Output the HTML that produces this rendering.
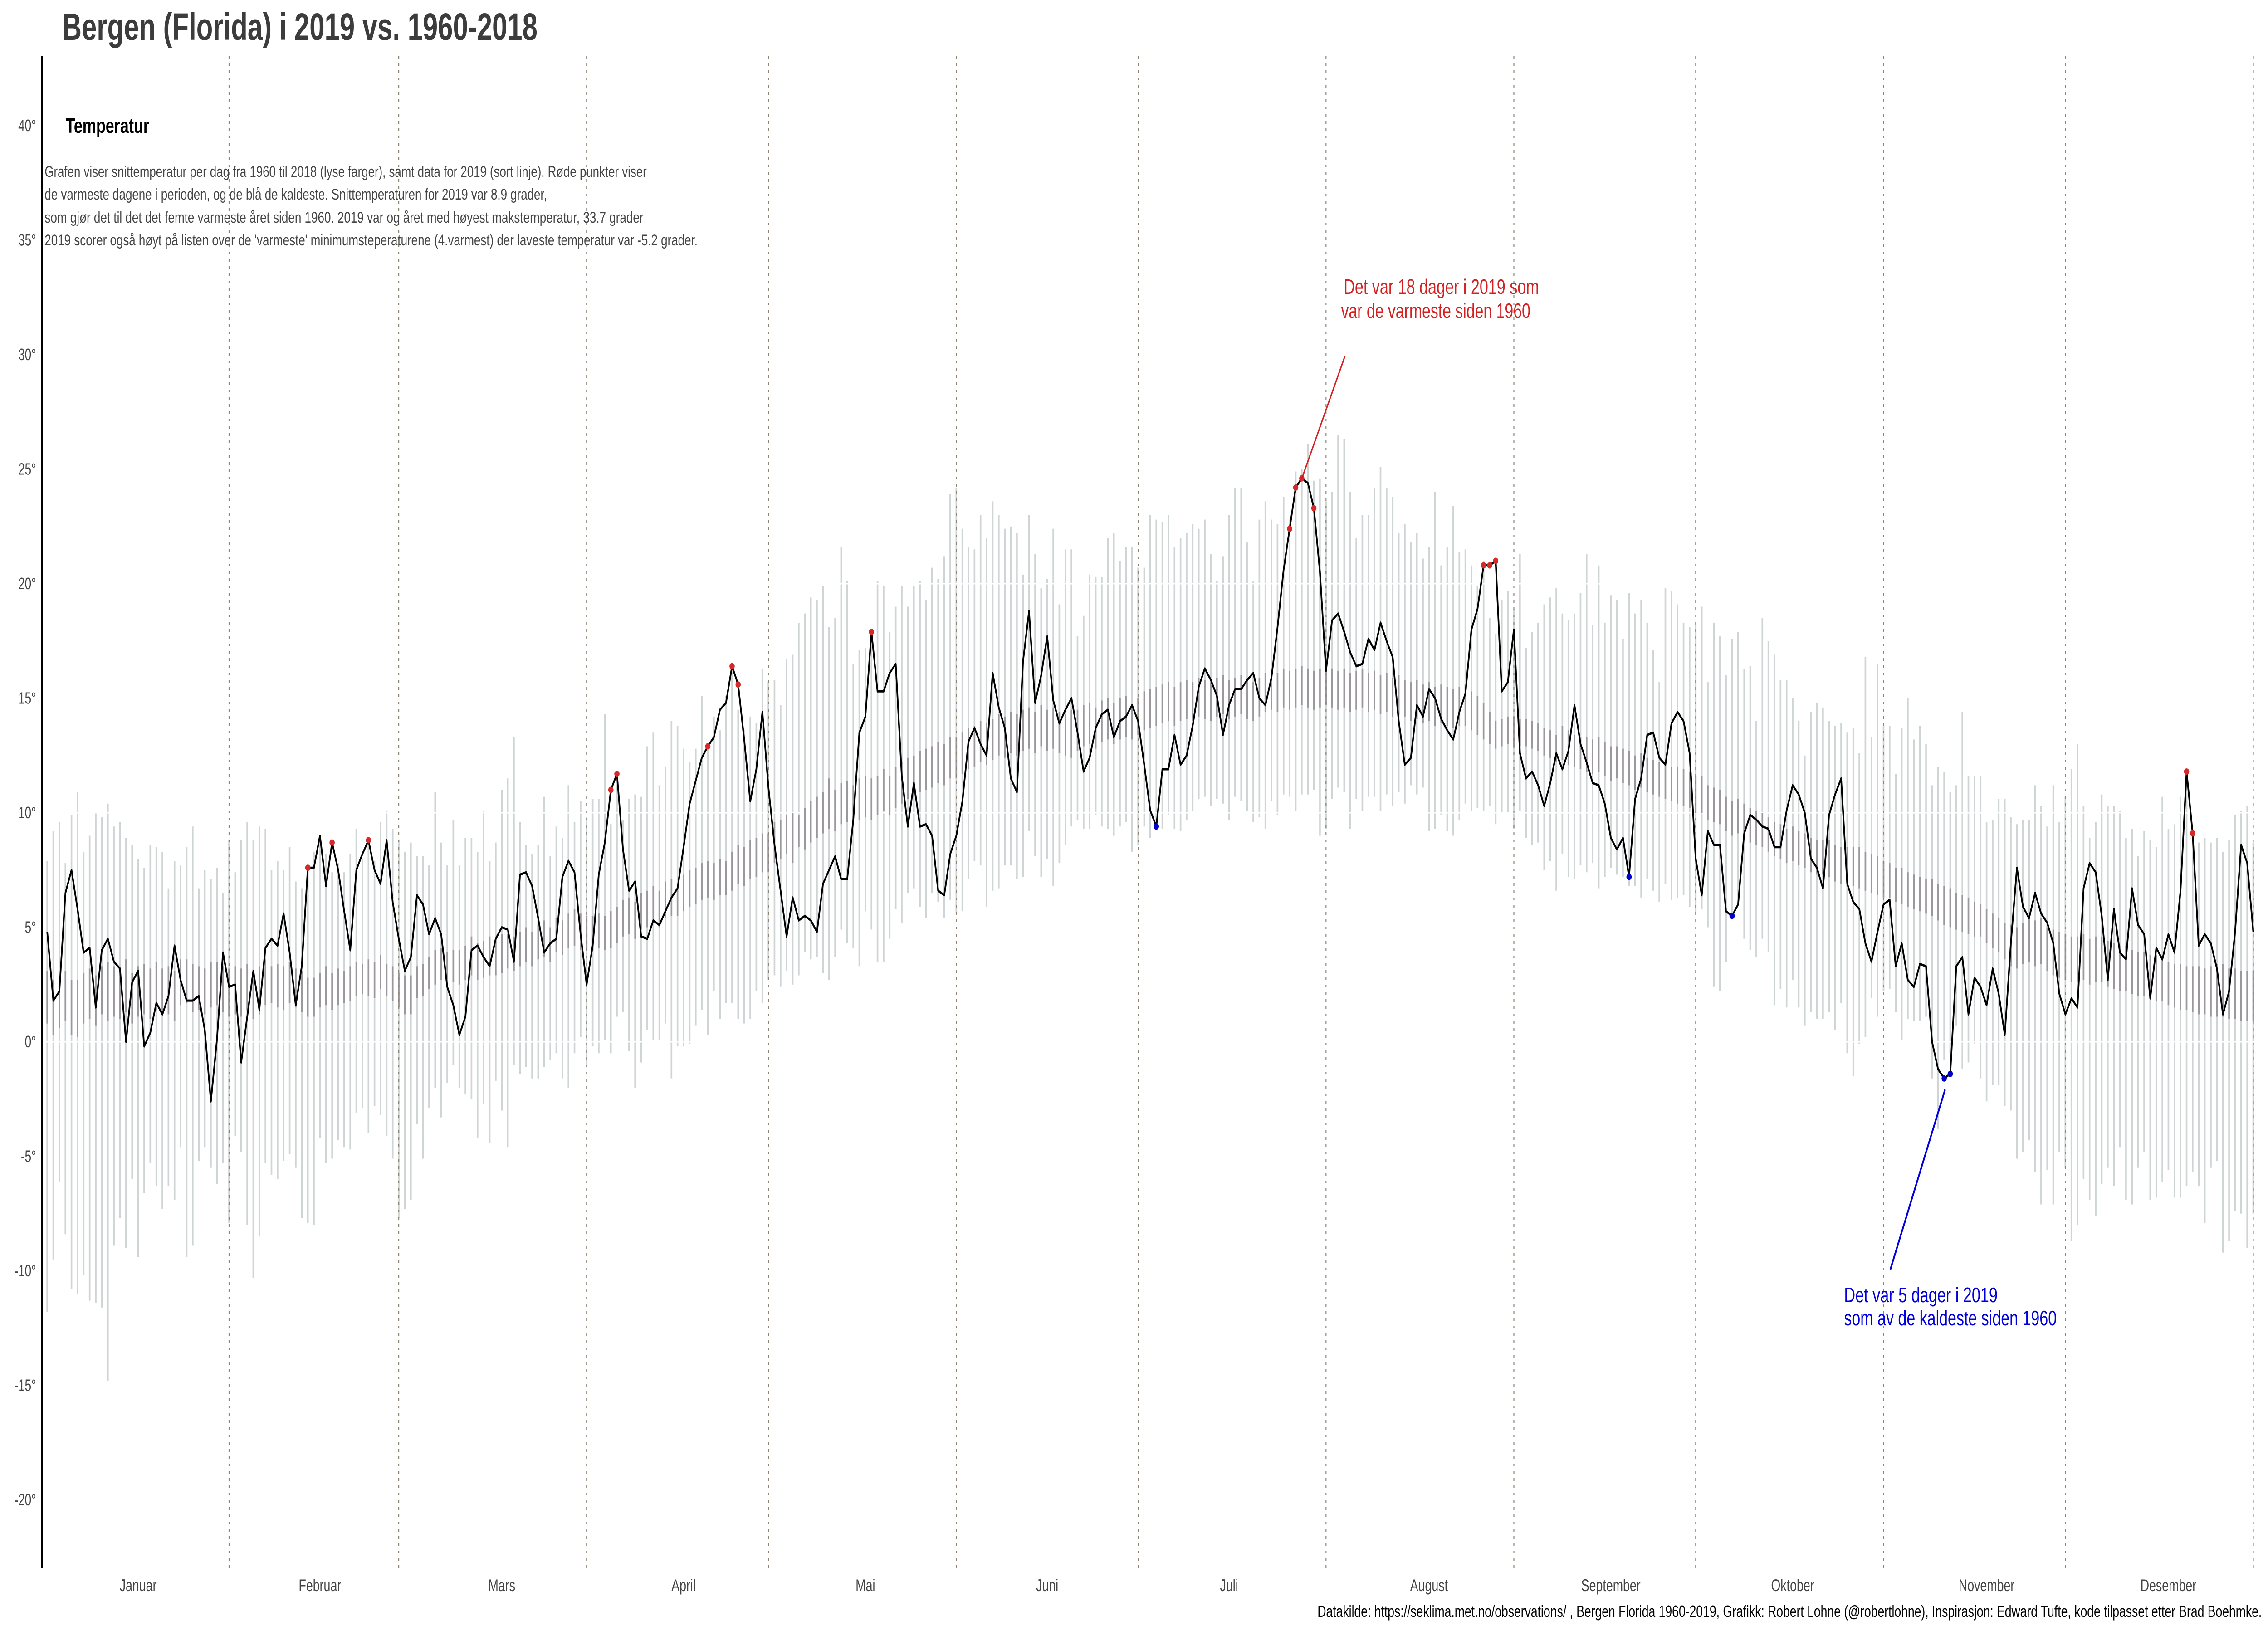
<!DOCTYPE html>
<html><head><meta charset="utf-8"><style>
html,body{margin:0;padding:0;background:#fff;overflow:hidden;width:100vw;height:100vh}
svg{display:block;width:100vw;height:100vh}
text{font-family:"Liberation Sans",Arial,sans-serif}
</style></head><body>
<svg id="chart" xmlns="http://www.w3.org/2000/svg" viewBox="0 0 6912 3596" preserveAspectRatio="none">
<rect width="6912" height="3596" fill="#fff"/>
<text x="189" y="88" font-size="84" font-weight="bold" fill="#3c3c3c" textLength="1449" lengthAdjust="spacingAndGlyphs">Bergen (Florida) i 2019 vs. 1960-2018</text>
<g id="gBars"></g>
<g id="gGrid"></g>
<g id="gBand"></g>
<g id="gMonths"></g>
<line x1="128" y1="123" x2="128" y2="3458" stroke="#000" stroke-width="5"/>
<g id="gYTicks"></g>
<g id="gXLabels"></g>
<path id="line2019" fill="none" stroke="#000" stroke-width="5" stroke-linejoin="round"/>
<g id="gDots"></g>
<text x="200" y="293" font-size="46" font-weight="bold" fill="#000" textLength="255" lengthAdjust="spacingAndGlyphs">Temperatur</text>
<g font-size="34" fill="#444">
<text x="136" y="390" textLength="1835" lengthAdjust="spacingAndGlyphs">Grafen viser snittemperatur per dag fra 1960 til 2018 (lyse farger), samt data for 2019 (sort linje). Røde punkter viser</text>
<text x="136" y="440" textLength="1531" lengthAdjust="spacingAndGlyphs">de varmeste dagene i perioden, og de blå de kaldeste. Snittemperaturen for 2019 var 8.9 grader,</text>
<text x="136" y="491" textLength="1825" lengthAdjust="spacingAndGlyphs">som gjør det til det det femte varmeste året siden 1960. 2019 var og året med høyest makstemperatur, 33.7 grader</text>
<text x="136" y="541" textLength="1990" lengthAdjust="spacingAndGlyphs">2019 scorer også høyt på listen over de 'varmeste' minimumsteperaturene (4.varmest) der laveste temperatur var -5.2 grader.</text>
</g>
<line x1="4099" y1="785" x2="3967" y2="1056" stroke="#d42020" stroke-width="4"/>
<g font-size="46" fill="#d42020">
<text x="4095" y="648" textLength="595" lengthAdjust="spacingAndGlyphs">Det var 18 dager i 2019 som</text>
<text x="4087" y="701" textLength="577" lengthAdjust="spacingAndGlyphs">var de varmeste siden 1960</text>
</g>
<line x1="5761" y1="2799" x2="5928" y2="2402" stroke="#0000dd" stroke-width="5"/>
<g font-size="46" fill="#0000dd">
<text x="5620" y="2871" textLength="468" lengthAdjust="spacingAndGlyphs">Det var 5 dager i 2019</text>
<text x="5620" y="2922" textLength="648" lengthAdjust="spacingAndGlyphs">som av de kaldeste siden 1960</text>
</g>
<text x="4015" y="3565" font-size="36" fill="#000" textLength="2878" lengthAdjust="spacingAndGlyphs">Datakilde: https://seklima.met.no/observations/ , Bergen Florida 1960-2019, Grafikk: Robert Lohne (@robertlohne), Inspirasjon: Edward Tufte, kode tilpasset etter Brad Boehmke.</text>
</svg>
<script>
const temps2019 = [4.8,1.8,2.2,6.5,7.5,5.8,3.9,4.1,1.5,4.0,
4.5,3.5,3.2,0.0,2.6,3.1,-0.2,0.4,1.7,1.2,
2.0,4.2,2.7,1.8,1.8,2.0,0.5,-2.6,0.1,3.9,2.4,
2.5,-0.9,1.1,3.1,1.4,4.1,4.5,4.2,5.6,3.9,
1.6,3.3,7.6,7.6,9.0,6.8,8.7,7.5,5.7,4.0,
7.5,8.2,8.8,7.5,6.9,8.8,6.1,4.5,
3.1,3.7,6.4,6.0,4.7,5.4,4.7,2.4,1.6,0.3,1.1,
4.0,4.2,3.7,3.3,4.5,5.0,4.9,3.5,7.3,7.4,
6.8,5.4,3.9,4.3,4.5,7.2,7.9,7.4,4.7,2.5,
4.2,7.3,8.7,11.0,11.7,8.4,6.6,7.0,4.6,4.5,
5.3,5.1,5.7,6.3,6.7,8.5,10.4,11.4,12.4,12.9,
13.3,14.5,14.8,16.4,15.6,13.2,10.5,11.9,14.4,11.1,
8.6,6.6,4.6,6.3,5.3,5.5,5.3,4.8,6.9,7.5,
8.1,7.1,7.1,9.7,13.5,14.2,17.9,15.3,15.3,16.1,
16.5,11.6,9.4,11.3,9.4,9.5,9.0,6.6,6.4,8.2,
9.0,10.5,13.1,13.7,13.0,12.5,16.1,14.6,13.7,11.5,
10.9,16.6,18.8,14.8,16.0,17.7,14.9,13.9,14.5,15.0,
13.5,11.8,12.4,13.7,14.3,14.5,13.3,14.0,14.2,14.7,
14.0,12.1,10.1,9.4,11.9,11.9,13.4,12.1,12.5,13.8,
15.5,16.3,15.8,15.1,13.4,14.7,15.4,15.4,15.8,16.1,
15.0,14.7,15.9,18.1,20.6,22.4,24.2,24.6,24.4,23.3,
20.5,16.2,18.4,18.7,17.9,17.0,16.4,16.5,17.6,17.1,
18.3,17.5,16.8,14.0,12.1,12.4,14.7,14.2,15.4,15.0,
14.1,13.6,13.2,14.4,15.2,18.0,18.9,20.8,20.8,21.0,
15.3,15.7,18.0,12.6,11.5,11.8,11.2,10.3,11.3,12.6,
11.9,12.7,14.7,13.0,12.2,11.3,11.2,10.4,8.9,8.4,
8.9,7.2,10.6,11.5,13.4,13.5,12.4,12.1,13.9,14.4,
14.0,12.6,8.0,6.4,9.2,8.6,8.6,5.7,5.5,6.0,
9.1,9.9,9.7,9.4,9.3,8.5,8.5,10.1,11.2,10.8,
10.0,8.0,7.6,6.7,9.9,10.8,11.5,6.9,6.1,5.8,
4.3,3.5,4.8,6.0,6.2,3.3,4.3,2.7,2.4,3.4,
3.3,0.0,-1.2,-1.6,-1.4,3.3,3.7,1.2,2.8,2.4,
1.6,3.2,2.1,0.3,4.3,7.6,5.9,5.4,6.5,5.6,
5.2,4.3,2.1,1.2,1.9,1.5,6.7,7.8,7.4,5.5,
2.7,5.8,3.9,3.6,6.7,5.1,4.7,1.9,4.1,3.6,
4.7,3.9,6.6,11.8,9.1,4.2,4.7,4.3,3.2,1.2,
2.2,4.8,8.6,7.8,4.8];
const histMax = [7.9,9.2,9.6,7.8,9.9,10.9,8.3,9.0,10.0,9.8,
10.4,9.4,9.6,8.9,8.6,8.0,7.6,8.6,8.5,8.3,
6.7,7.9,7.7,8.5,9.4,6.7,7.5,7.1,7.6,6.5,
8.8,7.4,8.8,9.6,8.8,9.4,9.3,7.5,7.9,7.5,
8.5,7.0,6.7,7.6,8.3,9.0,8.2,7.4,7.8,7.4,
8.2,9.3,8.0,8.9,7.9,9.6,10.1,9.3,8.8,8.3,
8.7,8.1,8.1,7.7,10.9,8.7,7.7,9.7,7.7,8.9,
8.9,8.3,10.1,7.9,8.7,11.0,11.5,13.3,9.6,8.6,
8.2,8.6,10.7,8.1,9.4,8.9,11.2,9.6,10.5,9.8,
10.6,10.6,14.3,9.5,11.8,9.7,10.6,10.8,10.7,12.9,
13.5,11.2,12.0,14.0,13.8,12.8,12.2,12.8,15.1,12.9,
14.2,13.6,15.1,16.3,14.5,13.6,14.2,13.9,16.3,15.7,
15.8,14.7,16.7,16.9,18.3,18.7,19.4,19.3,19.9,18.1,
18.5,21.6,20.1,16.5,17.1,17.2,17.9,20.1,19.9,17.9,
19.0,19.9,19.0,19.9,20.1,19.3,20.7,20.2,21.2,23.9,
24.2,22.4,21.6,21.5,23.0,22.0,23.6,23.0,22.4,22.5,
22.2,20.4,23.0,21.3,19.8,20.2,22.4,19.1,21.5,21.5,
17.7,18.6,20.4,20.3,20.3,22.0,22.2,21.0,21.6,21.6,
20.7,20.7,23.0,22.8,22.7,23.0,21.6,22.0,22.2,22.6,
22.4,22.8,21.3,20.1,21.2,23.0,24.2,24.2,21.8,20.1,
22.8,23.6,22.8,22.6,23.8,22.8,24.9,25.0,26.1,24.5,
24.6,23.6,24.0,26.5,26.3,24.0,22.0,23.0,23.0,24.2,
25.1,24.2,23.8,22.2,22.6,21.8,22.2,21.1,21.6,24.0,
20.8,21.6,23.4,21.4,21.5,20.8,19.9,21.0,18.5,17.8,
19.3,19.7,18.9,21.3,17.2,17.9,18.3,19.1,19.4,19.8,
18.7,18.4,18.7,19.6,21.3,18.2,20.8,18.3,19.5,19.3,
17.6,19.6,18.7,19.3,18.3,17.1,15.7,19.8,19.7,19.1,
18.3,18.1,18.2,19.0,15.7,18.3,17.7,16.0,17.6,17.9,
16.3,16.4,14.0,18.5,17.5,16.9,15.8,15.8,15.0,14.0,
12.5,14.4,14.8,14.6,14.0,13.8,13.9,13.5,13.7,12.6,
16.8,13.3,16.5,13.8,13.8,11.7,13.7,15.0,13.2,13.8,
13.0,11.2,12.0,11.8,10.9,11.2,14.4,11.6,11.6,11.6,
9.6,9.7,10.6,10.6,9.8,9.5,9.7,9.7,11.2,10.3,
9.4,11.2,9.6,10.7,11.9,13.0,10.3,8.9,9.6,10.8,
10.3,10.3,10.1,8.9,9.3,8.1,9.2,8.8,8.5,10.7,
9.3,9.5,10.7,11.5,9.1,8.7,8.9,8.7,8.9,8.3,
8.8,9.9,10.1,10.3,8.7];
const histMin = [-11.8,-9.5,-6.1,-8.4,-10.8,-11.0,-10.2,-11.3,-11.4,-11.6,
-14.8,-8.9,-7.7,-9.0,-6.0,-9.4,-6.6,-5.3,-6.3,-7.3,
-6.3,-6.9,-4.6,-9.4,-8.9,-5.2,-4.6,-5.5,-6.2,-5.3,
-7.9,-4.1,-4.8,-8.0,-10.3,-8.5,-5.3,-5.8,-6.0,-5.2,
-4.9,-5.5,-7.7,-7.9,-8.0,-4.2,-5.3,-5.1,-4.3,-4.6,
-4.7,-3.1,-2.9,-4.0,-2.8,-3.2,-4.1,-5.1,-7.7,-7.3,
-6.9,-3.6,-5.1,-2.9,-2.0,-3.3,-1.8,-1.0,-2.0,-2.3,
-2.5,-4.2,-2.7,-4.4,-1.7,-3.0,-4.6,-1.0,-1.4,-1.1,
-1.6,-1.6,-1.1,-0.8,-0.5,-1.6,-2.0,-0.5,0.2,-1.1,
-0.2,-0.5,0.1,-0.5,1.1,1.3,-0.4,-2.0,-0.9,0.5,
0.1,0.1,0.8,-1.6,-0.2,-0.2,-0.1,0.7,1.4,0.3,
2.2,1.0,1.7,1.7,1.0,0.8,1.0,2.2,1.7,2.7,
2.9,2.4,3.1,2.5,2.9,3.9,3.6,3.7,3.0,2.7,
3.7,4.9,4.3,4.1,3.3,5.7,4.9,3.5,3.5,4.5,
5.8,5.2,6.5,6.7,5.9,5.4,6.5,6.1,5.4,6.2,
5.6,5.7,7.1,7.9,7.7,5.9,6.6,6.7,7.7,7.7,
7.1,7.2,9.2,8.1,7.2,8.0,6.8,7.8,8.6,9.4,
9.7,9.3,9.3,9.9,9.4,9.3,9.0,9.4,9.6,8.3,
8.6,9.4,8.9,9.4,9.3,9.9,9.3,9.2,9.7,10.1,
10.6,10.7,10.3,10.6,10.4,9.7,10.7,10.5,10.1,9.6,
9.8,9.3,10.5,9.9,10.8,10.7,10.1,10.8,10.8,11.0,
9.0,9.3,10.6,11.1,10.9,9.3,10.6,10.1,10.7,10.7,
10.1,10.8,10.3,10.9,10.4,11.2,10.8,11.1,9.2,9.3,
9.9,9.2,9.0,9.7,10.4,10.1,10.2,10.1,10.3,9.5,
10.0,10.0,9.3,10.1,8.9,8.6,8.7,7.5,7.9,6.6,
8.2,7.2,7.1,7.7,7.4,7.8,6.7,7.2,7.6,7.3,
7.2,6.8,6.8,6.3,7.1,6.6,6.1,6.9,6.2,6.3,
6.4,5.9,5.6,5.8,5.0,2.4,2.2,3.5,5.5,6.0,
4.5,4.0,3.7,4.5,3.9,1.6,2.3,1.5,2.7,1.5,
0.7,1.3,1.0,1.0,1.3,0.5,1.7,-0.5,-1.5,-0.1,
0.2,1.9,1.1,2.2,2.3,1.3,0.1,1.0,0.9,0.9,
1.1,-1.6,-3.8,-0.8,-0.5,0.7,-1.2,-0.9,-0.1,-1.6,
-2.6,-1.9,-1.9,-2.8,-3.0,-5.1,-4.8,-4.3,-5.7,-7.1,
-5.6,-7.1,-4.8,-5.5,-8.7,-8.0,-6.0,-6.9,-7.6,-6.2,
-5.5,-6.3,-4.6,-6.9,-7.1,-5.5,-4.8,-6.9,-6.8,-6.1,
-5.6,-6.8,-6.8,-6.3,-5.7,-6.3,-7.9,-5.5,-5.2,-9.2,
-8.7,-7.4,-7.5,-9.0,-7.5];
const bandLo = [0.8,0.3,0.6,0.9,0.3,0.2,0.8,1.0,0.7,1.2,
0.9,1.1,1.0,1.3,0.8,1.1,1.2,1.0,1.4,1.3,
1.2,0.9,1.6,1.7,1.3,1.4,1.2,1.5,1.6,1.3,
1.1,1.2,1.1,1.4,1.0,1.2,1.6,1.7,1.5,1.4,
1.7,1.5,1.3,1.1,1.1,1.5,1.6,1.4,1.6,1.7,
1.8,2.0,2.1,2.0,1.9,2.3,2.0,1.8,1.5,1.2,
1.2,1.9,2.0,2.3,2.5,2.7,2.4,2.6,2.5,2.7,
2.9,2.7,2.8,2.9,2.9,3.0,3.2,3.1,3.3,3.5,
3.3,3.6,3.7,3.5,3.9,3.8,4.1,4.2,4.0,4.0,
4.0,4.1,4.0,4.1,4.3,4.6,4.7,4.5,4.9,5.0,
5.2,5.0,5.4,5.5,5.5,5.7,5.9,6.0,6.2,6.3,
6.2,6.4,6.4,6.6,6.9,6.8,7.1,7.2,7.4,7.4,
7.8,8.0,8.2,7.8,8.5,8.4,8.7,8.9,9.1,9.3,
9.2,9.5,9.6,9.4,9.7,9.8,9.7,9.9,10.1,9.9,
10.2,10.4,10.6,10.7,10.9,11.0,11.1,11.3,11.2,11.5,
11.5,11.7,11.9,12.0,12.2,12.1,12.3,12.5,12.4,12.6,
12.5,12.7,12.8,12.6,12.9,12.7,12.8,12.6,12.5,12.4,
12.7,12.9,13.0,12.8,13.1,13.2,13.0,13.2,13.3,13.2,
13.4,13.6,13.7,13.8,13.9,14.0,13.8,14.0,14.1,14.0,
14.2,14.1,14.0,14.2,14.3,14.1,14.2,14.3,14.1,14.0,
14.2,14.4,14.5,14.4,14.6,14.5,14.6,14.7,14.6,14.5,
14.6,14.7,14.6,14.5,14.6,14.4,14.5,14.6,14.4,14.5,
14.3,14.4,14.2,14.3,14.2,14.0,14.1,13.9,14.0,13.8,
13.9,13.8,13.7,13.8,13.8,13.6,13.4,13.2,13.0,12.8,
12.9,13.0,12.9,12.9,12.9,12.8,12.7,12.5,12.4,12.2,
12.3,12.1,12.0,11.9,11.8,11.7,11.8,11.6,11.4,11.5,
11.3,11.2,11.0,11.1,10.9,10.8,10.7,10.6,10.5,10.4,
10.3,10.2,10.0,10.0,9.7,9.6,9.5,9.2,9.0,9.1,
8.9,8.7,8.6,8.5,8.3,8.1,8.0,7.8,7.9,7.7,
7.6,7.4,7.3,7.3,7.2,7.0,6.9,6.8,6.8,6.7,
6.6,6.5,6.4,6.3,6.3,6.1,6.0,5.9,5.8,5.7,
5.6,5.5,5.3,5.1,5.0,4.9,4.8,4.7,4.6,4.6,
4.3,4.1,3.9,3.6,3.3,3.2,3.4,3.5,3.3,3.4,
3.1,2.9,2.8,2.7,2.6,2.6,2.7,2.5,2.6,2.6,
2.4,2.3,2.2,2.2,2.1,2.0,2.0,1.9,1.8,1.8,
1.6,1.5,1.4,1.4,1.3,1.2,1.2,1.1,1.1,1.1,
1.0,1.0,0.9,0.9,0.9];
const bandHi = [3.1,2.7,2.8,3.1,2.7,2.7,3.0,3.2,2.9,3.3,
3.5,3.3,3.2,3.6,3.0,3.3,3.4,3.2,3.5,3.2,
3.3,3.1,3.6,3.6,3.4,3.3,3.2,3.5,3.5,3.3,
3.2,3.3,3.2,3.4,3.0,3.3,3.6,3.3,3.4,3.3,
3.5,3.2,3.1,2.8,2.8,3.0,3.3,3.0,3.2,3.1,
3.3,3.5,3.4,3.6,3.5,3.8,3.4,3.3,3.0,2.9,
2.9,3.3,3.4,3.7,4.0,4.1,3.9,4.0,4.0,4.2,
4.6,4.3,4.4,4.6,4.6,4.7,4.7,4.6,4.8,5.0,
4.8,5.1,5.3,5.0,5.4,5.3,5.6,5.8,5.6,5.5,
5.5,5.6,5.5,5.7,5.9,6.2,6.3,6.1,6.5,6.6,
6.8,6.6,7.0,7.1,6.7,7.3,7.5,7.6,7.8,7.9,
7.8,8.0,7.9,8.3,8.6,8.5,8.8,8.9,9.1,9.1,
9.6,9.7,9.9,10.0,9.9,10.2,10.5,10.7,10.9,11.5,
11.0,11.3,11.4,11.2,11.5,11.6,11.5,11.6,11.9,11.6,
12.0,12.2,12.4,12.5,12.7,12.8,12.9,13.1,13.0,13.3,
13.3,13.5,13.7,13.8,14.0,13.9,14.1,14.3,14.2,14.4,
14.3,14.5,14.6,14.4,14.7,14.5,14.6,14.4,14.3,14.5,
14.5,14.7,14.8,14.6,14.9,15.0,14.8,15.0,15.1,14.7,
15.0,15.3,15.4,15.5,15.6,15.7,15.5,15.7,15.8,15.7,
15.9,15.8,15.7,15.9,16.0,15.8,15.9,16.0,15.8,15.7,
15.9,16.1,16.2,16.1,16.3,16.2,16.3,16.4,16.3,16.2,
16.3,16.4,16.3,16.2,16.3,16.1,16.2,16.3,16.1,16.2,
16.0,16.1,15.9,16.0,15.8,15.7,15.8,15.6,15.7,15.5,
15.6,15.5,15.4,15.5,15.6,15.3,15.1,14.8,14.4,14.0,
14.1,14.2,14.2,14.1,14.1,14.0,13.9,13.7,13.6,13.4,
13.8,13.6,13.4,13.3,13.3,13.2,13.3,13.1,12.9,12.9,
12.8,12.7,12.5,12.6,12.4,12.3,12.2,12.1,12.0,12.0,
11.9,11.8,11.6,11.6,11.2,11.1,11.0,10.7,10.5,10.6,
10.4,10.2,10.1,10.0,9.8,9.6,9.5,9.3,9.4,9.2,
9.1,8.9,8.8,8.8,8.8,8.6,8.5,8.5,8.5,8.5,
8.3,8.2,8.1,7.9,7.8,7.6,7.6,7.4,7.3,7.2,
7.1,7.1,6.9,6.8,6.7,6.5,6.4,6.3,6.1,6.0,
5.8,5.6,5.4,5.2,5.1,5.0,5.2,5.4,5.3,5.4,
5.0,4.9,4.8,4.7,4.6,4.6,4.7,4.5,4.6,4.6,
4.4,4.3,4.2,4.2,4.0,3.9,3.9,3.8,3.8,3.7,
3.5,3.4,3.4,3.3,3.3,3.3,3.2,3.3,3.4,3.4,
3.2,3.2,3.1,3.1,3.1];
const warmDays = [44,48,54,94,95,110,114,115,137,206,207,208,210,238,239,240,354,355];
const coldDays = [184,262,279,314,315];
const monthNames = ["Januar","Februar","Mars","April","Mai","Juni","Juli","August","September","Oktober","November","Desember"];
const monthLabelDays = [16,46,76,106,136,166,196,229,259,289,321,351];
const monthEndDays = [31,59,90,120,151,181,212,243,273,304,334,365];
const yTicks = [40,35,30,25,20,15,10,5,0,-5,-10,-15,-20];
const gridTemps = [0,10,20];

const NS = "http://www.w3.org/2000/svg";
const X0 = 144, DX = 18.47, Y0 = 2297, DY = 50.5;
function xOf(day){ return X0 + (day-1)*DX; }
function yOf(t){ return Y0 - t*DY; }
function mk(tag, attrs, parent){
  const e = document.createElementNS(NS, tag);
  for (const k in attrs) e.setAttribute(k, attrs[k]);
  parent.appendChild(e);
  return e;
}
const gBars = document.getElementById('gBars');
const gGrid = document.getElementById('gGrid');
const gBand = document.getElementById('gBand');
const gMonths = document.getElementById('gMonths');
const gY = document.getElementById('gYTicks');
const gX = document.getElementById('gXLabels');
const gDots = document.getElementById('gDots');

for (let i = 0; i < histMax.length; i++) {
  const x = xOf(i+1);
  const b = mk('line', {x1:x, x2:x, y1:yOf(histMax[i]), y2:yOf(histMin[i]), stroke:'#cfd5d5', 'stroke-width':5}, gBars);
  
  
}
gridTemps.forEach(t => {
  const g = mk('line', {x1:132, x2:6912, y1:yOf(t), y2:yOf(t), stroke:'#fff', 'stroke-width':3}, gGrid);
  
  
});
for (let i = 0; i < bandLo.length; i++) {
  const x = xOf(i+1);
  const b = mk('line', {x1:x, x2:x, y1:yOf(bandHi[i]), y2:yOf(bandLo[i]), stroke:'#9a979d', 'stroke-width':5}, gBand);
  
  
}
monthEndDays.forEach(d => {
  const x = xOf(d);
  const l = mk('line', {x1:x, x2:x, y1:123, y2:3458, stroke:'#8e8574', 'stroke-width':3, 'stroke-dasharray':'6 10'}, gMonths);
  
  
});
yTicks.forEach(t => {
  const tx = mk('text', {x:110, y:yOf(t)+12, 'font-size':36, fill:'#444', 'text-anchor':'end'}, gY);
  tx.textContent = t + '°';
  
  
});
monthNames.forEach((m, i) => {
  const tx = mk('text', {x:xOf(monthLabelDays[i]), y:3508, 'font-size':37, fill:'#444', 'text-anchor':'middle'}, gX);
  tx.textContent = m;
  
  
});
let d = '';
temps2019.forEach((t, i) => { d += (i ? 'L' : 'M') + xOf(i+1).toFixed(1) + ' ' + yOf(t).toFixed(1); });
document.getElementById('line2019').setAttribute('d', d);
warmDays.forEach(day => {
  const c = mk('ellipse', {cx:xOf(day), cy:yOf(temps2019[day-1]), rx:8, ry:7, fill:'#d42a2a'}, gDots);
  
  
});
coldDays.forEach(day => {
  const c = mk('ellipse', {cx:xOf(day), cy:yOf(temps2019[day-1]), rx:8, ry:7, fill:'#0000cc'}, gDots);
  
  
});
</script>
</body></html>
